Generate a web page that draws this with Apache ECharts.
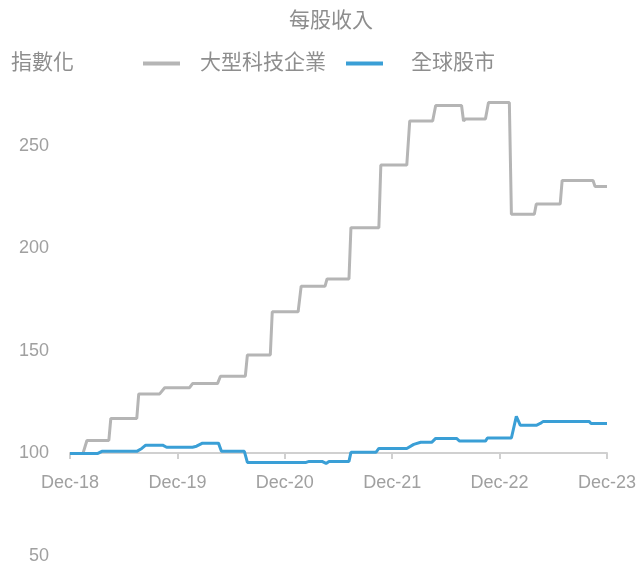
<!DOCTYPE html>
<html>
<head>
<meta charset="utf-8">
<script src="https://cdn.jsdelivr.net/npm/echarts@6/dist/echarts.min.js"></script>
<style>html,body{margin:0;padding:0;background:#fff}#c{width:639px;height:566px}</style>
</head>
<body>
<div id="c"></div>
<script>
// x = months since Dec-18
const xTickLabels = ['Dec-18','Dec-19','Dec-20','Dec-21','Dec-22','Dec-23'];
const bigTechName = '大型科技企業';
const globalName = '全球股市';
const bigTechMonths = [0,1.45,1.89,4.34,4.56,7.46,7.68,10.02,10.58,13.36,13.69,16.48,16.81,19.59,19.82,22.38,22.6,25.49,25.83,28.5,28.72,31.17,31.39,34.51,34.73,37.63,37.96,40.52,40.86,43.75,43.97,44.2,46.42,46.76,49.09,49.32,51.88,52.1,54.77,54.99,58.44,58.67,60];
const bigTechValues = [100,100,106.3,106.3,117,117,129,129,132,132,134,134,137.6,137.6,148,148,169,169,181.5,181.5,185,185,210,210,240.5,240.5,262,262,269.5,269.5,262,263,263,271,271,216.5,216.5,221.5,221.5,233,233,230,230];
const globalMonths = [0,3.12,3.56,7.46,8.02,8.46,10.35,10.8,13.69,14.14,14.81,16.59,16.92,19.48,19.82,26.38,26.72,28.16,28.61,28.94,31.17,31.39,34.18,34.51,37.63,38.41,39.19,40.41,40.86,43.19,43.53,46.42,46.64,49.32,49.87,50.32,52.1,52.54,52.88,58,58.22,60];
const globalValues = [100,100,101,101,102.4,104,104,103,103,103.5,105,105,101,101,95.6,95.6,96.1,96.1,95.1,96.1,96.1,100.5,100.5,102.4,102.4,104.4,105.4,105.4,107.3,107.3,106,106,107.5,107.5,118,113.7,113.7,114.6,115.6,115.6,114.6,114.6];
const yTicks = [50,100,150,200,250];

const pair = (xs, ys) => xs.map((x, i) => [x, ys[i]]);
const font = '"Liberation Sans","Noto Sans CJK TC",sans-serif';
const txt = '#8e8e8e';

const chart = echarts.init(document.getElementById('c'));
chart.setOption({
  animation: false,
  title: [
    {text: '每股收入', left: 284, top: 6, textStyle: {color: txt, fontSize: 21, fontWeight: 'normal', fontFamily: font}},
    {text: '指數化', left: 6, top: 48, textStyle: {color: txt, fontSize: 21, fontWeight: 'normal', fontFamily: font}}
  ],
  legend: {
    left: 138, top: 48, itemWidth: 37, itemHeight: 4, itemGap: 20, icon: 'rect',
    textStyle: {color: txt, fontSize: 21, fontFamily: font},
    data: [
      {name: bigTechName, textStyle: {padding: [0, 0, 0, 15]}},
      {name: globalName, textStyle: {padding: [0, 0, 0, 23]}}
    ]
  },
  grid: {left: 70, right: 30, top: 84, bottom: 10, containLabel: false},
  xAxis: {
    type: 'value', min: 0, max: 60, interval: 12, offset: -103,
    axisLine: {show: true, lineStyle: {color: '#d0d0d0', width: 2}},
    axisTick: {show: true, length: 6, lineStyle: {color: '#d0d0d0', width: 2}},
    splitLine: {show: false},
    axisLabel: {color: '#a0a0a0', fontSize: 18, fontFamily: font, margin: 21,
      formatter: v => xTickLabels[Math.round(v / 12)] || ''}
  },
  yAxis: {
    type: 'value', min: 50, max: 280, interval: 50,
    axisLine: {show: false}, axisTick: {show: false}, splitLine: {show: false},
    axisLabel: {color: '#a0a0a0', fontSize: 18, fontFamily: font, margin: 21, showMaxLabel: false,
      formatter: v => yTicks.includes(v) ? String(v) : ''}
  },
  series: [
    {name: bigTechName, type: 'line', data: pair(bigTechMonths, bigTechValues), showSymbol: false,
      lineStyle: {color: '#b5b5b5', width: 3}, itemStyle: {color: '#b5b5b5'}},
    {name: globalName, type: 'line', data: pair(globalMonths, globalValues), showSymbol: false,
      lineStyle: {color: '#3a9fd6', width: 3}, itemStyle: {color: '#3a9fd6'}}
  ]
});
</script>
</body>
</html>
